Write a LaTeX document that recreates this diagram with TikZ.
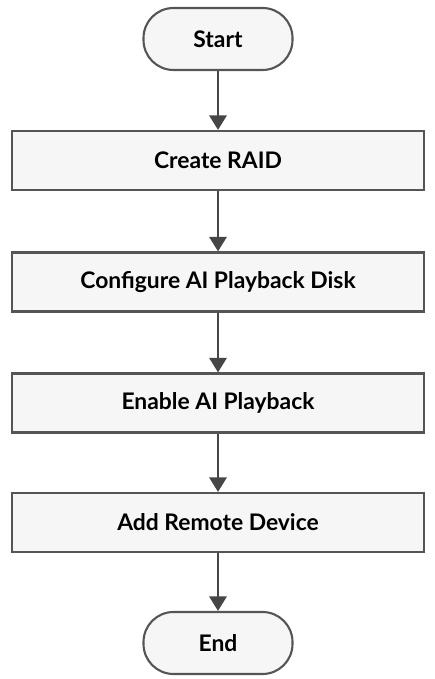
\documentclass[tikz,border=0pt]{standalone}
\usepackage{fontspec}
\setmainfont{Lato}
\usepackage{xcolor}
\usetikzlibrary{arrows.meta}
\definecolor{edge}{RGB}{85, 85, 85}
\definecolor{flow}{RGB}{70, 70, 70}
\definecolor{boxfill}{RGB}{246, 246, 246}

\tikzset{
  stepbox/.style={draw=edge, line width=1.2pt, fill=boxfill, minimum width=8.24cm,
    minimum height=1.18cm, font=\bfseries\fontsize{13}{15}\selectfont},
  termbox/.style={stepbox, minimum width=2.98cm, minimum height=1.24cm, rounded corners=0.6cm},
  flowarrow/.style={draw=flow, line width=1.7pt, -{Triangle[width=0.34cm, length=0.29cm]}}
}

\begin{document}
\begin{tikzpicture}
    \useasboundingbox (0,0) rectangle (8.68,13.58);

    % Terminals
    \node[termbox] (start) at (4.36,12.80) {Start};
    \node[termbox] (end) at (4.36,0.72) {End};

    % Steps
    \foreach \i/\txt/\y in {1/Create RAID/10.37, 2/Configure AI Playback Disk/7.94,
                            3/Enable AI Playback/5.52, 4/Add Remote Device/3.13} {
        \node[stepbox] (step\i) at (4.36,\y) {\txt};
      }

    % Connectors
    \draw[flowarrow] (start) -- (step1);
    \foreach \i [evaluate=\i as \j using int(\i+1)] in {1,2,3} {
        \draw[flowarrow] (step\i) -- (step\j);
      }
    \draw[flowarrow] (step4) -- (end);
  \end{tikzpicture}
\end{document}
